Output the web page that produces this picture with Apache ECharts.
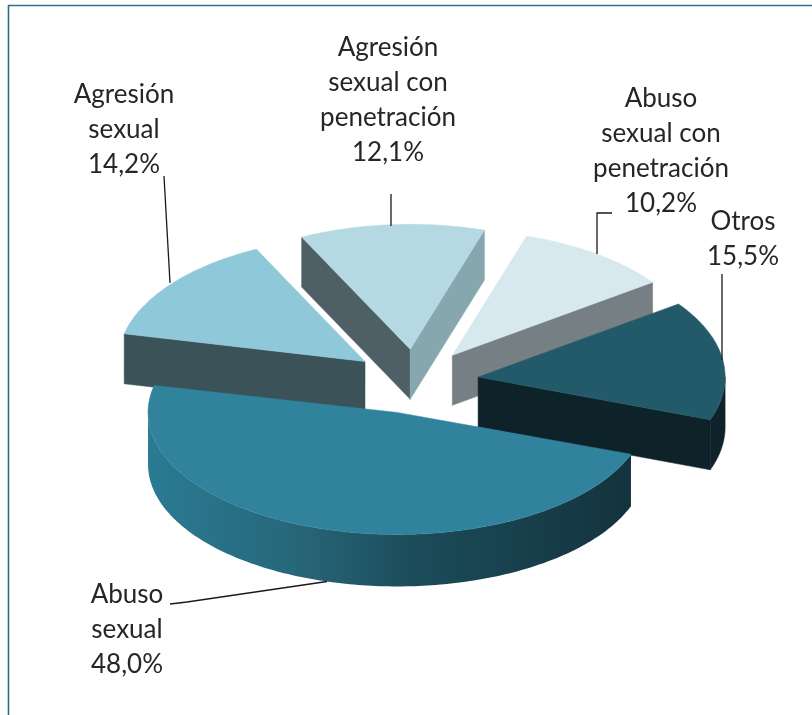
<!DOCTYPE html>
<html>
<head>
<meta charset="utf-8">
<script src="https://cdn.jsdelivr.net/npm/echarts@6/dist/echarts.min.js"></script>
<style>html,body{margin:0;padding:0;background:#fff}#c{width:812px;height:715px}</style>
</head>
<body>
<div id="c"></div>
<script>
// Data, in pie order (clockwise from the right-hand edge of the largest slice)
const categories = ['Abuso sexual', 'Agresión sexual', 'Agresión sexual con penetración', 'Abuso sexual con penetración', 'Otros'];
const values = [48.0, 14.2, 12.1, 10.2, 15.5];
const labelLines = [['Abuso', 'sexual'], ['Agresión', 'sexual'], ['Agresión', 'sexual con', 'penetración'], ['Abuso', 'sexual con', 'penetración'], ['Otros']];

// Styles
const topColors = ['#31829c', '#8fc9d9', '#b5d9e3', '#d7e9ef', '#225a69'];
const faceStart = ['#000', '#3b5259', '#4e5f66', '#000', '#000'];
const faceEnd = ['#000', '#000', '#87a7ae', '#767f84', '#0e2229'];
const drawOrder = [2, 1, 3, 4, 0];

// Layout (the nearest slice looks slightly larger: perspective of the 3D pie)
const cx = 415, cy = 381.5, rx = 247, ry = 125, explode = 0.258, startDeg = 20;
const scaleX = [1.008, 1, 1, 1, 1];
const scaleY = [0.976, 1, 1, 1, 1];
const depths = [52, 50, 50, 50, 50];
const labelPos = [[127, 595], [124, 95], [388, 48], [661, 99], [743, 222]];
const leaders = [
  [[170, 604], [187, 602], [327, 581.5]],
  [[164, 176], [170, 283]],
  [[391, 194], [391, 226]],
  [[612, 213], [597, 213], [597, 254]],
  [[722, 274], [722, 360]]
];
const lineH = 35;

const total = values.reduce((a, b) => a + b, 0);
const rad = d => d * Math.PI / 180;
let acc = startDeg;
const slices = values.map((v, i) => {
  const a = acc, b = acc + v / total * 360;
  acc = b;
  const m = rad((a + b) / 2);
  return { i, a, b, ax: cx + explode * rx * Math.cos(m), ay: cy + explode * ry * Math.sin(m) };
});
const rim = (s, d) => [s.ax + rx * scaleX[s.i] * Math.cos(rad(d)), s.ay + ry * scaleY[s.i] * Math.sin(rad(d))];
const down = (p, s) => [p[0], p[1] + depths[s.i]];

function poly(points, fill) {
  return { type: 'polygon', shape: { points }, style: { fill, stroke: typeof fill === 'string' ? fill : null, lineWidth: 0.5 } };
}
function sliceShapes(s) {
  const out = [];
  const apex = [s.ax, s.ay];
  if (Math.cos(rad(s.a)) < 0) {
    const p = rim(s, s.a);
    out.push(poly([apex, p, down(p, s), down(apex, s)], faceStart[s.i]));
  }
  if (Math.cos(rad(s.b)) > 0) {
    const p = rim(s, s.b);
    out.push(poly([apex, p, down(p, s), down(apex, s)], faceEnd[s.i]));
  }
  // Front wall: every stretch of the rim that faces the viewer
  for (const [lo, hi] of [[0, 180], [360, 540]]) {
    const from = Math.max(s.a, lo), to = Math.min(s.b, hi);
    if (to > from) {
      const upper = [], lower = [];
      for (let d = from; d < to; d += 1) upper.push(rim(s, d));
      upper.push(rim(s, to));
      upper.forEach(p => lower.unshift(down(p, s)));
      const fill = s.i === 0
        ? new echarts.graphic.LinearGradient(0, 0, 1, 0, [
            { offset: 0, color: '#2a7b94' },
            { offset: 0.3, color: '#27677a' },
            { offset: 0.55, color: '#1c4c5a' },
            { offset: 1, color: '#13333e' }
          ])
        : faceEnd[s.i];
      out.push(poly(upper.concat(lower), fill));
    }
  }
  const top = [apex];
  for (let d = s.a; d < s.b; d += 1) top.push(rim(s, d));
  top.push(rim(s, s.b));
  out.push(poly(top, topColors[s.i]));
  return out;
}
function labelShapes(i) {
  const out = [{
    type: 'polyline',
    shape: { points: leaders[i] },
    style: { stroke: '#1a1a1a', lineWidth: 1.3, fill: null }
  }];
  const lines = labelLines[i].concat(values[i].toFixed(1).replace('.', ',') + '%');
  lines.forEach((t, k) => out.push({
    type: 'text',
    style: {
      x: labelPos[i][0], y: labelPos[i][1] + k * lineH, text: t,
      fill: '#262626', font: '26px Lato, "Open Sans", sans-serif',
      align: 'center', verticalAlign: 'middle'
    }
  }));
  return out;
}

const chart = echarts.init(document.getElementById('c'), null, { renderer: 'canvas' });
chart.setOption({
  animation: false,
  backgroundColor: '#ffffff',
  graphic: [
    { type: 'polyline', z: 0, shape: { points: [[8.5, 715], [8.5, 5.5], [812, 5.5]] }, style: { stroke: '#2f6f86', lineWidth: 1.6, fill: null } }
  ],
  series: [{
    type: 'custom',
    coordinateSystem: 'none',
    silent: true,
    data: drawOrder.map(i => ({ name: categories[i], value: values[i], sliceIndex: i })),
    renderItem: function (params) {
      const i = drawOrder[params.dataIndex];
      return { type: 'group', children: sliceShapes(slices[i]) };
    }
  }, {
    type: 'custom',
    coordinateSystem: 'none',
    silent: true,
    z: 5,
    data: categories.map((c, i) => ({ name: c, value: values[i] })),
    renderItem: function (params) {
      return { type: 'group', children: labelShapes(params.dataIndex) };
    }
  }]
});
</script>
</body>
</html>
